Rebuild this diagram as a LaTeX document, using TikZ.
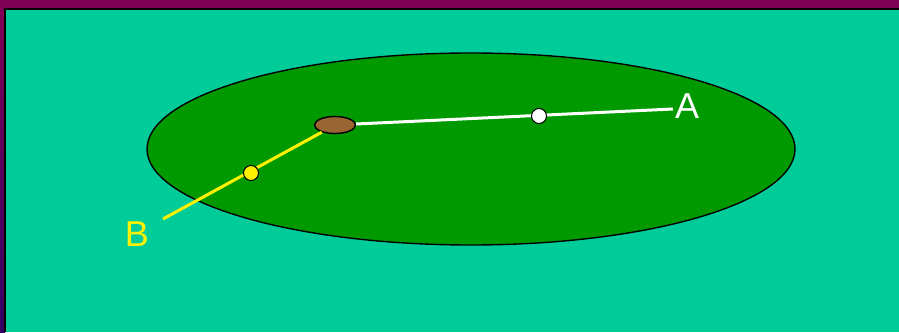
\documentclass[tikz,border=0pt]{standalone}
\usepackage{fontspec}
\setmainfont{Liberation Sans}
\usetikzlibrary{shapes.geometric}
\definecolor{teal}{HTML}{00CC99}
\definecolor{field}{HTML}{009900}
\definecolor{brownball}{HTML}{996633}
\definecolor{mag}{HTML}{800055}
\definecolor{purp}{HTML}{330066}
\begin{document}
\begin{tikzpicture}[x=1pt,y=1pt,
  dot/.style={circle,draw=black,line width=1pt,minimum size=15pt,inner sep=0pt},
  lbl/.style={font=\fontsize{36}{36}\selectfont,inner sep=0pt},
  ray/.style={line width=3pt}]
\useasboundingbox (0,0) rectangle (899,-332);
\fill[mag] (0,0) rectangle (899,-8);
\shade[top color=mag,bottom color=purp] (0,-8) rectangle (5,-332);
\fill[black] (4,-8) rectangle (899,-10);
\fill[black] (4,-8) rectangle (6,-332);
\fill[teal] (6,-10) rectangle (899,-332);
\node[ellipse,draw=black,line width=1.4pt,fill=field,minimum width=648pt,minimum height=192pt,inner sep=0pt] (field) at (471,-149) {};
\node[lbl,text=white,anchor=west] (A) at (675,-106) {A};
\node[lbl,text=yellow] (B) at (137,-234) {B};
\coordinate (Bend) at (163,-219);
\coordinate (Aend) at (673,-109);
\node[ellipse,draw=black,line width=1.4pt,fill=brownball,minimum width=41pt,minimum height=17pt,inner sep=0pt] (ball) at (335,-125) {};
\draw[ray,white] (ball) -- (Aend);
\draw[ray,yellow] (ball) -- (Bend);
\node[dot,fill=white] (wd) at (539,-116) {};
\node[dot,fill=yellow] (yd) at (251,-173) {};
\end{tikzpicture}
\end{document}
